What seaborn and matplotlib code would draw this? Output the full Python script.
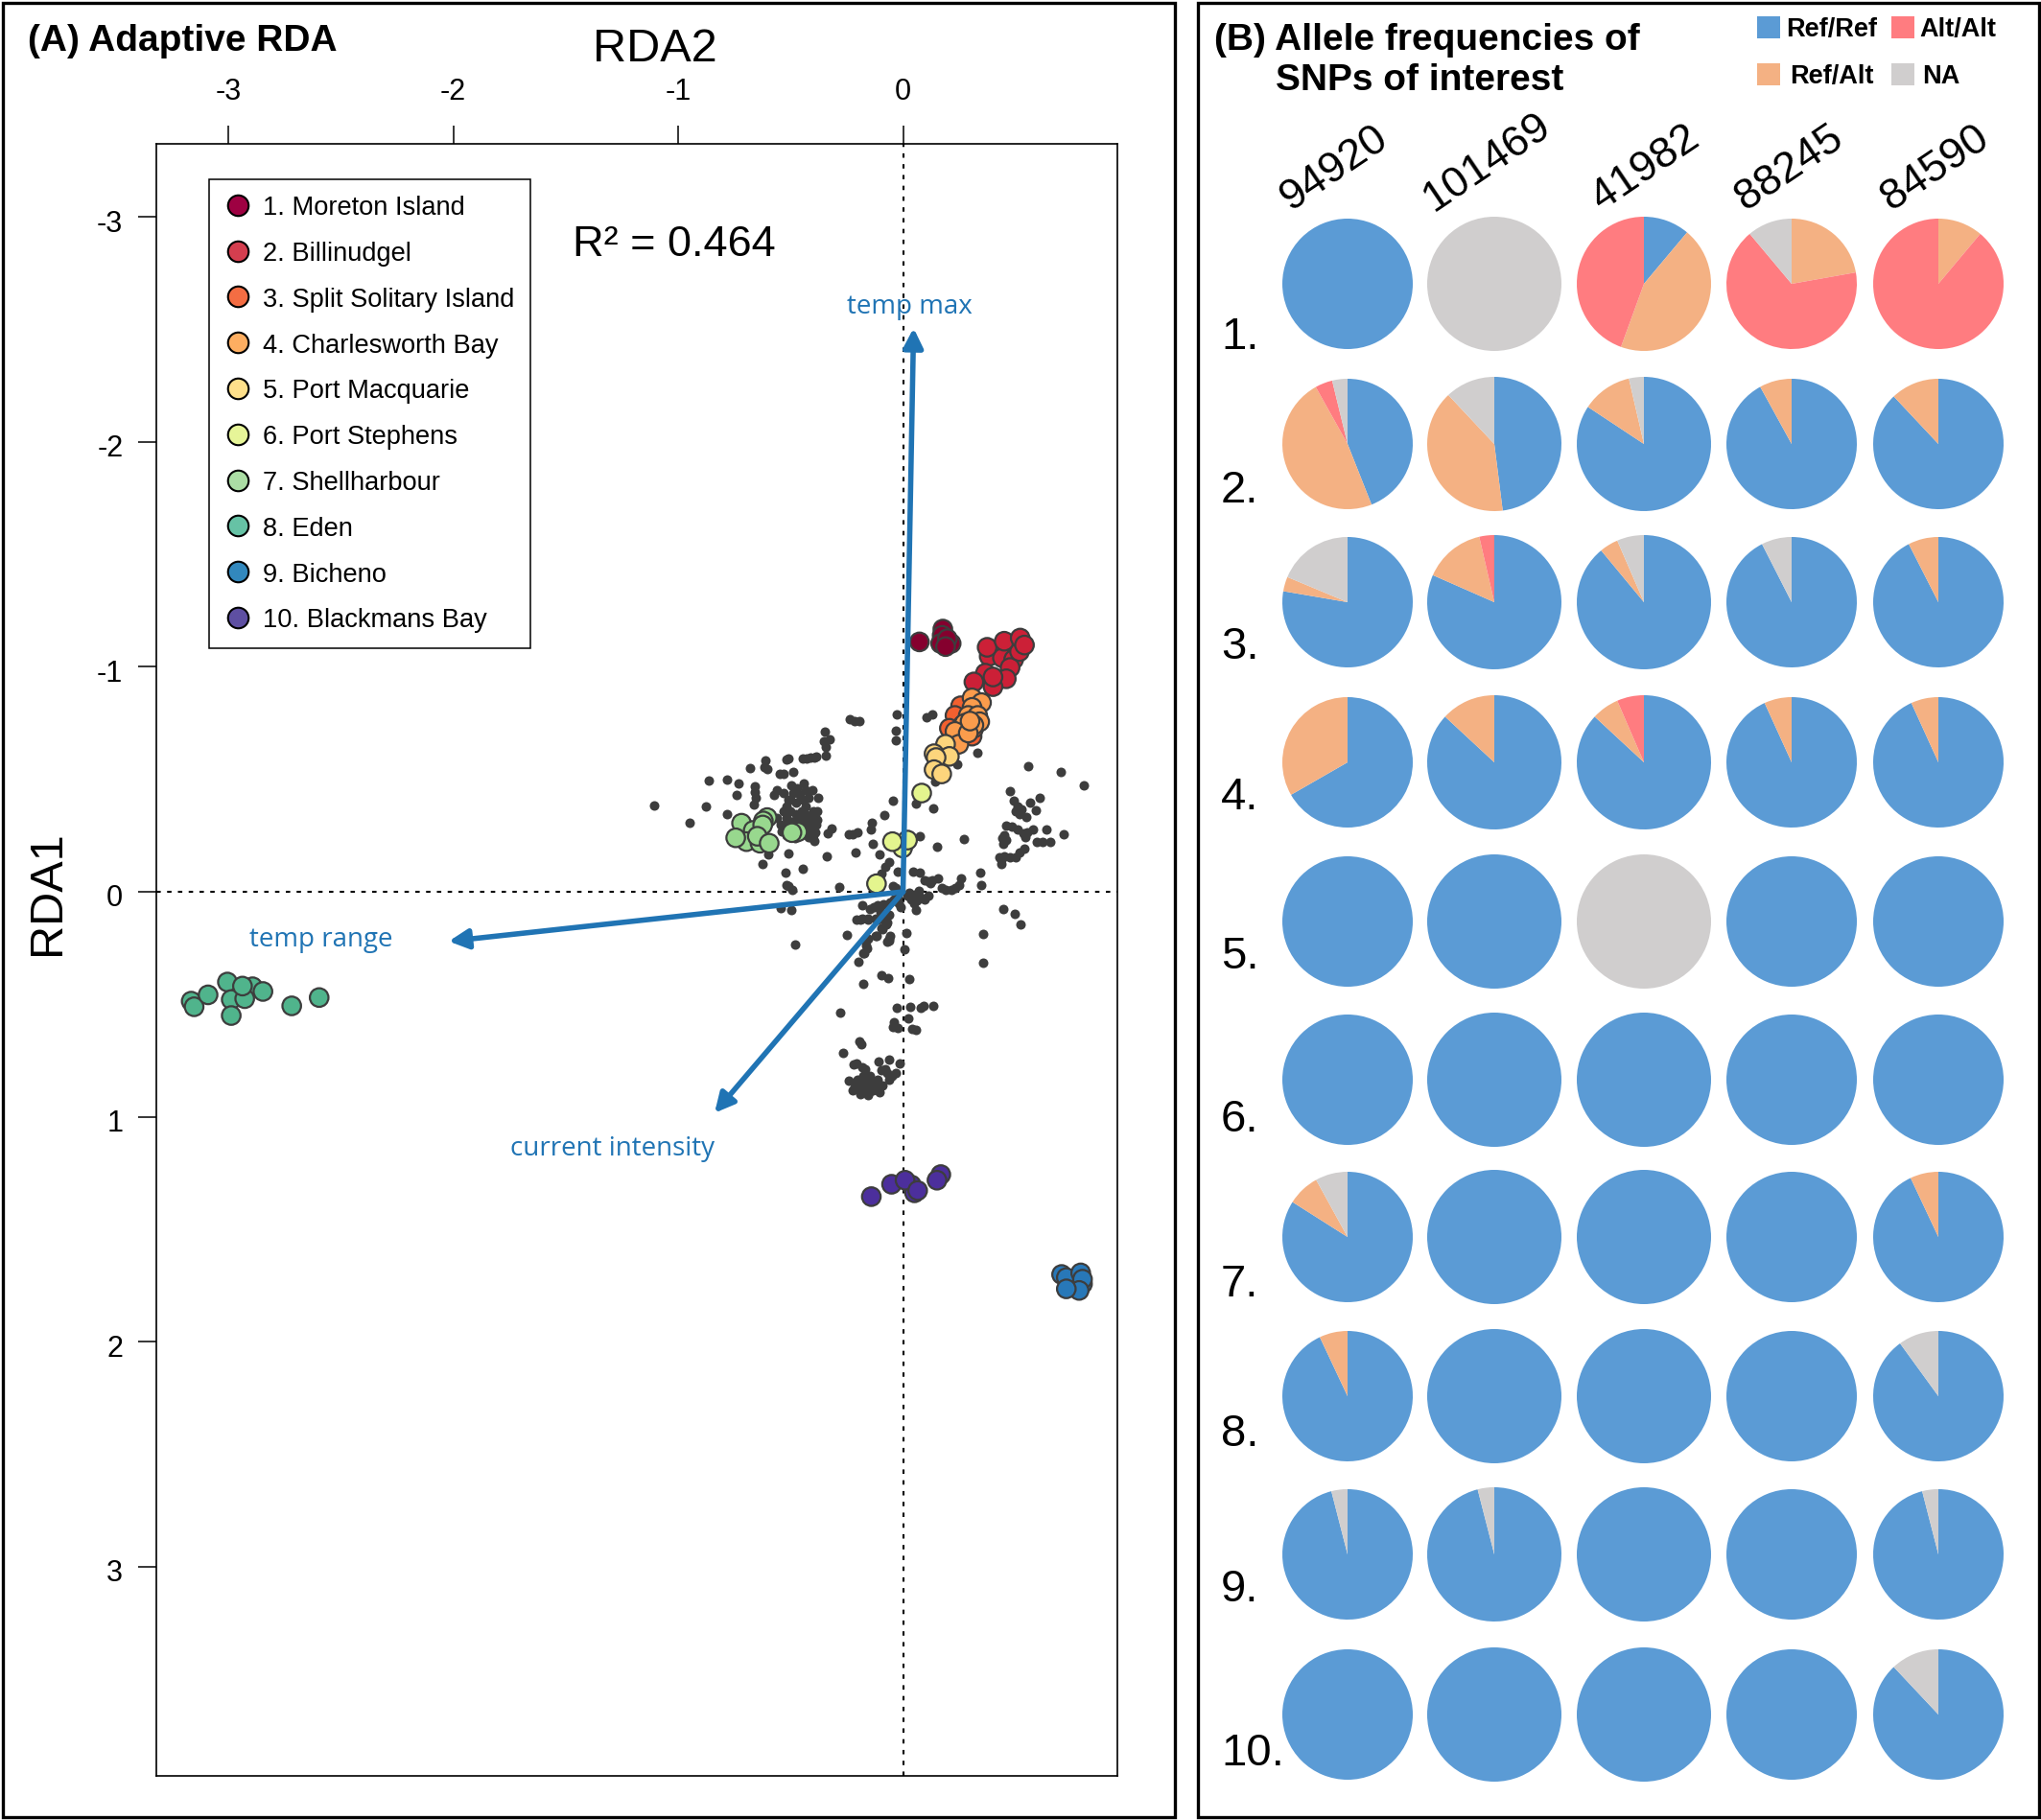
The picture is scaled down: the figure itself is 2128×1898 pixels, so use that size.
import pandas as pd
import matplotlib
matplotlib.use("Agg")
import matplotlib.pyplot as plt
import seaborn as sns
from matplotlib.lines import Line2D
from matplotlib.patches import Rectangle
from matplotlib.transforms import ScaledTranslation

# -------------------------------
# Data: RDA scores as (RDA2, RDA1)
# -------------------------------
snp_scores = [
    (-1.106, -.385), (-.951, -.308), (-.877, -.379), (-.862, -.496), (-.782, -.497), (-.732, -.482),
    (-.742, -.432), (-.781, -.344), (-.681, -.551), (-.612, -.585), (-.617, -.554), (-.604, -.545),
    (-.511, -.592), (-.519, -.588), (-.444, -.592), (-.427, -.592), (-.41, -.599), (-.393, -.599),
    (-.384, -.602), (-.342, -.607), (-.342, -.642), (-.351, -.67), (-.325, -.678), (-.347, -.712),
    (-.238, -.766), (-.216, -.759), (-.196, -.76), (-.029, -.787), (-.03, -.717), (-.03, -.675),
    (.105, -.778), (.128, -.788), (.329, -.619), (.239, -.565), (.143, -.489), (.059, -.393),
    (.133, -.369), (-.047, -.406), (-.084, -.342), (-.137, -.305), (-.145, -.277), (.076, -.249),
    (.153, -.2), (.27, -.233), (-.317, -.28), (-.337, -.261), (-.241, -.254), (-.224, -.256),
    (-.204, -.263), (-.135, -.213), (-.211, -.173), (-.103, -.168), (-.339, -.156), (-.511, -.17),
    (-.6, -.168), (-.626, -.122), (-.447, -.102), (-.524, -.084), (-.52, -.031), (-.511, -.024),
    (-.494, -.007), (-.283, -.02), (-.545, .072), (-.497, .081), (-.481, .233), (-.25, .19),
    (.445, .077), (.496, .098), (.524, .143), (.358, .186), (.356, .314), (.344, -.087),
    (.349, -.03), (.26, -.06), (.558, -.56), (.702, -.534), (.804, -.474), (.476, -.449),
    (.609, -.418), (.563, -.395), (.592, -.361), (.492, -.406), (.509, -.379), (.526, -.365),
    (.501, -.358), (.518, -.344), (.546, -.334), (.459, -.294), (.484, -.29), (.509, -.276),
    (.535, -.259), (.551, -.266), (.577, -.276), (.543, -.244), (.636, -.277), (.715, -.257),
    (.45, -.251), (.442, -.237), (.459, -.23), (.447, -.213), (.594, -.223), (.619, -.223),
    (.653, -.223), (.54, -.19), (.518, -.173), (.501, -.155), (.476, -.155), (.45, -.159),
    (.43, -.155), (.437, -.124), (.437, -.142), (.046, -.088), (.076, -.084), (.096, -.053),
    (.113, -.045), (.13, -.053), (.155, -.06), (.172, -.017), (.189, -.007), (.214, -.01),
    (.231, -.017), (.248, -.031), (-.022, -.091), (-.064, -.131), (-.081, -.109), (-.098, -.081),
    (-.047, -.024), (-.03, -.017), (.029, .004), (.054, .011), (.071, -.003), (.079, .026),
    (.096, .033), (.113, .018), (.062, .04), (.037, .033), (.02, .018), (.059, .08),
    (-.182, .061), (-.148, .075), (-.132, .068), (-.115, .061), (-.089, .054), (-.056, .047),
    (-.039, .033), (-.022, .026), (-.207, .125), (-.182, .118), (-.157, .118), (-.123, .118),
    (-.089, .125), (-.064, .104), (-.073, .146), (-.098, .161), (-.123, .196), (-.064, .21),
    (-.056, .196), (-.165, .239), (-.174, .274), (-.199, .31), (-.157, .21), (.015, .183),
    (.007, .256), (-.119, .195), (-.091, .166), (-.063, .216), (-.07, .223), (-.169, .216),
    (-.162, .251), (-.176, .273), (-.112, .124), (-.07, .138), (-.19, .124), (-.155, .124),
    (-.175, .411), (-.095, .371), (-.067, .382), (.027, .389), (-.28, .537), (-.026, .517),
    (.033, .51), (.08, .517), (.091, .506), (.136, .507), (.024, .561), (-.04, .581),
    (-.045, .602), (-.024, .607), (.04, .61), (.058, .615), (-.195, .664), (-.185, .678),
    (-.266, .716), (-.219, .767), (-.207, .763), (-.183, .78), (-.169, .787), (-.108, .753),
    (-.063, .746), (-.017, .763), (-.094, .791), (-.077, .787), (-.07, .806), (-.034, .806),
    (-.048, .82), (-.063, .834), (-.243, .841), (-.226, .881), (-.205, .848), (-.19, .869),
    (-.176, .82), (-.162, .834), (-.148, .82), (-.176, .877), (-.155, .905), (-.134, .884),
    (-.119, .855), (-.105, .891), (-.091, .862), (-.216, .869), (-.188, .898), (-.202, .834),
    (-.141, .848), (-.112, .834), (-.561, -.452), (-.575, -.43), (-.532, -.438), (-.497, -.473),
    (-.511, -.409), (-.475, -.395), (-.44, -.48), (-.433, -.452), (-.404, -.452), (-.447, -.409),
    (-.433, -.381), (-.376, -.419), (-.383, -.359), (-.532, -.523), (-.547, -.523), (-.487, -.533),
    (-.66, -.47), (-.66, -.445), (-.655, -.42), (-.665, -.39), (-.56, -.33), (-.53, -.36),
    (-.517, -.33), (-.5, -.36), (-.475, -.345), (-.45, -.36), (-.43, -.34), (-.4, -.36),
    (-.39, -.33), (-.545, -.3), (-.52, -.29), (-.49, -.31), (-.46, -.3), (-.43, -.31),
    (-.41, -.3), (-.385, -.3), (-.54, -.27), (-.5, -.26), (-.46, -.27), (-.43, -.27),
    (-.405, -.27), (-.39, -.265), (-.42, -.245), (-.405, -.24), (-.395, -.225), (-.4, -.25),
    (-.52, -.25), (-.48, -.24), (-.51, -.315), (-.475, -.32), (-.445, -.33), (-.415, -.335),
    (-.505, -.285), (-.475, -.29), (-.445, -.285), (-.415, -.285), (-.38, -.32), (-.44, -.255),
    (-.52, -.38), (-.5, -.41), (-.46, -.43), (-.42, -.42), (-.49, -.44), (-.47, -.46),
    (-.17, .85), (-.16, .87), (-.145, .87), (-.13, .86), (-.15, .89), (-.2, .86), (-.19, .85),
    (-.12, .875), (.12, -.04), (.04, .02), (.05, .05), (-.02, .05), (-.01, .07), (-.1, .09),
]
moreton = [(.073, -1.111), (.177, -1.168), (.174, -1.14), (.18, -1.104), (.214, -1.104),
           (.167, -1.104), (.197, -1.125), (.189, -1.09)]
billinudgel = [(.383, -1.047), (.442, -1.04), (.492, -1.033), (.476, -.997), (.459, -.947),
               (.518, -1.068), (.374, -1.087), (.45, -1.114), (.521, -1.128), (.54, -1.097),
               (.4, -.912), (.366, -.972), (.315, -.933), (.4, -.955)]
split_solitary = [(.256, -.827), (.231, -.784), (.206, -.727), (.307, -.692), (.265, -.741), (.315, -.727)]
charlesworth = [(.307, -.862), (.349, -.841), (.307, -.82), (.29, -.784), (.332, -.784), (.273, -.749),
                (.341, -.756), (.231, -.713), (.248, -.656), (.315, -.741), (.29, -.706), (.298, -.759)]
port_macquarie = [(.189, -.656), (.138, -.614), (.206, -.602), (.147, -.597), (.138, -.543), (.172, -.524)]
port_stephens = [(.083, -.439), (-.002, -.195), (.02, -.23), (-.047, -.223), (-.118, -.036)]
shellharbour = [(-.604, -.33), (-.621, -.315), (-.718, -.305), (-.666, -.273), (-.624, -.297), (-.696, -.223),
                (-.636, -.216), (-.744, -.24), (-.648, -.247), (-.595, -.216), (-.469, -.266), (-.494, -.263)]
eden = [(-3.165, .486), (-3.152, .511), (-3.09, .458), (-3.004, .401), (-2.987, .479), (-2.987, .55),
        (-2.892, .422), (-2.846, .443), (-2.927, .475), (-2.937, .419), (-2.718, .507), (-2.596, .47)]
bicheno = [(.705, 1.701), (.726, 1.715), (.79, 1.694), (.798, 1.743), (.798, 1.722), (.783, 1.772), (.726, 1.765)]
blackmans = [(-.141, 1.355), (-.051, 1.3), (.037, 1.303), (.051, 1.338), (.009, 1.282), (.065, 1.328),
             (.168, 1.257), (.151, 1.282)]

site_labels = ["1. Moreton Island", "2. Billinudgel", "3. Split Solitary Island", "4. Charlesworth Bay",
               "5. Port Macquarie", "6. Port Stephens", "7. Shellharbour", "8. Eden", "9. Bicheno",
               "10. Blackmans Bay"]
site_scores = [moreton, billinudgel, split_solitary, charlesworth, port_macquarie, port_stephens,
               shellharbour, eden, bicheno, blackmans]
site_colors = ["#85002e", "#cc2037", "#f2602f", "#fb9c4c", "#fdd57c", "#e4f58e", "#98d88e", "#50b48c",
               "#2878b8", "#4c2f9c"]
legend_colors = ["#9e0142", "#d53e4f", "#f46d43", "#fdae61", "#fee08b", "#e6f598", "#abdda4", "#66c2a5",
                 "#3288bd", "#5e4fa2"]

biplot_labels = ["temp max", "temp range", "current intensity"]
biplot_rda2 = [.047, -2.02, -.838]
biplot_rda1 = [-2.506, .22, .983]

# -------------------------------
# Data: genotype fractions per site (rows) and SNP (columns)
# -------------------------------
snp_names = ["94920", "101469", "41982", "88245", "84590"]
row_names = ["1.", "2.", "3.", "4.", "5.", "6.", "7.", "8.", "9.", "10."]
genotypes = ["Ref/Ref", "Ref/Alt", "Alt/Alt", "NA"]
ref_ref = [[1, 0, .111, 0, 0], [.44, .48, .843, .92, .88], [.777, .816, .89, .925, .925],
           [.667, .869, .869, .932, .932], [1, 1, 0, 1, 1], [1, 1, 1, 1, 1], [.84, 1, 1, 1, .93],
           [.93, 1, 1, 1, .9], [.96, .96, 1, 1, .96], [1, 1, 1, 1, .88]]
ref_alt = [[0, 0, .444, .222, .111], [.479, .40, .121, .08, .12], [.036, .148, .045, 0, .075],
           [.333, .131, .066, .068, .068], [0, 0, 0, 0, 0], [0, 0, 0, 0, 0], [.08, 0, 0, 0, .07],
           [.07, 0, 0, 0, 0], [0, 0, 0, 0, 0], [0, 0, 0, 0, 0]]
alt_alt = [[0, 0, .444, .667, .889], [.043, 0, 0, 0, 0], [0, .036, 0, 0, 0],
           [0, 0, .065, 0, 0], [0, 0, 0, 0, 0], [0, 0, 0, 0, 0], [0, 0, 0, 0, 0],
           [0, 0, 0, 0, 0], [0, 0, 0, 0, 0], [0, 0, 0, 0, 0]]
missing = [[0, 1, 0, .111, 0], [.038, .12, .036, 0, 0], [.187, 0, .065, .075, 0],
           [0, 0, 0, 0, 0], [0, 0, 1, 0, 0], [0, 0, 0, 0, 0], [.08, 0, 0, 0, 0],
           [0, 0, 0, 0, .1], [.04, .04, 0, 0, .04], [0, 0, 0, 0, .12]]
genotype_colors = ["#5b9bd5", "#f4b183", "#ff7c80", "#d0cece"]

# -------------------------------
# Figure setup
# -------------------------------
W, H = 2128, 1899
sns.set_theme(style="white")
plt.rcParams["font.family"] = ["Liberation Sans", "DejaVu Sans"]
plt.rcParams["text.color"] = "black"
fig = plt.figure(figsize=(W / 100, H / 100), dpi=100, facecolor="white")


def fx(px):
    return px / W


def fy(py):
    return 1 - py / H


for x0, x1 in [(3, 1225), (1249, 2126)]:
    fig.add_artist(Rectangle((fx(x0), fy(1896)), fx(x1 - x0), 1892 / H, transform=fig.transFigure,
                             fill=False, ec="black", lw=2.4))

# -------------------------------
# Panel A: RDA biplot
# -------------------------------
ax = fig.add_axes([fx(163), fy(1853), fx(1002), 1702 / H])

snp_df = pd.DataFrame(snp_scores, columns=["RDA2", "RDA1"])
sns.scatterplot(data=snp_df, x="RDA2", y="RDA1", color="#3d3d3d", s=52, linewidth=0, ax=ax, zorder=2)

site_df = pd.concat([pd.DataFrame(scores, columns=["RDA2", "RDA1"]).assign(site=name)
                     for name, scores in zip(site_labels, site_scores)])
sns.scatterplot(data=site_df, x="RDA2", y="RDA1", hue="site", palette=site_colors, s=195,
                edgecolor="#3d3d3d", linewidth=1.6, legend=False, ax=ax, zorder=3)

ax.axhline(0, color="black", ls=(0, (2.2, 3.2)), lw=1.5, zorder=1)
ax.axvline(0, color="black", ls=(0, (2.2, 3.2)), lw=1.5, zorder=1)

for x, y in zip(biplot_rda2, biplot_rda1):
    ax.annotate("", xy=(x, y), xytext=(0, 0), zorder=4,
                arrowprops=dict(arrowstyle="-|>,head_length=0.75,head_width=0.38", color="#2074b4", lw=4,
                                shrinkA=0, shrinkB=0, mutation_scale=16))

ax.text(.03, -2.605, biplot_labels[0], color="#2074b4", fontsize=20, family="Open Sans", ha="center", va="center")
ax.text(-2.586, .209, biplot_labels[1], color="#2074b4", fontsize=20, family="Open Sans", ha="center", va="center")
ax.text(-1.294, 1.14, biplot_labels[2], color="#2074b4", fontsize=20, family="Open Sans", ha="center", va="center")
ax.text(-1.47, -2.88, "R² = 0.464", fontsize=32.5, ha="left", va="center")

ax.set_xlim(-3.32, .953)
ax.set_ylim(3.93, -3.325)
ax.set_xticks([-3, -2, -1, 0])
ax.set_yticks([-3, -2, -1, 0, 1, 2, 3])
ax.set_xticklabels(["-3", "-2", "-1", "0"])
ax.set_yticklabels(["-3", "-2", "-1", "0", "1", "2", "3"])
ax.xaxis.tick_top()
ax.tick_params(axis="x", top=True, bottom=False, length=14, width=1.1, pad=15, labelsize=22, color="black",
               labelcolor="black")
ax.tick_params(axis="y", left=True, length=14, width=1.1, pad=11, labelsize=22, color="black", labelcolor="black")
ax.set_xlabel("")
ax.set_ylabel("")
for label in ax.get_yticklabels():
    label.set_transform(label.get_transform() + ScaledTranslation(0, -2 / 72, fig.dpi_scale_trans))
for spine in ax.spines.values():
    spine.set_color("black")
    spine.set_linewidth(1.2)

fig.text(fx(683), fy(52), "RDA2", fontsize=35, ha="center", va="center")
fig.text(fx(49), fy(931), "RDA1", fontsize=35, rotation=90, ha="center", va="center")
fig.text(fx(29), fy(43), "(A) Adaptive RDA", fontsize=28, weight="bold", ha="left", va="center")

handles = [Line2D([], [], ls="", marker="o", ms=15.5, mfc=c, mec="black", mew=1.5) for c in legend_colors]
leg = ax.legend(handles, site_labels, loc="upper left", bbox_to_anchor=((218 - 163) / 1002, 1 - 36.5 / 1702),
                borderaxespad=0, fontsize=19.6, frameon=True, fancybox=False, framealpha=1, edgecolor="black",
                borderpad=.62, labelspacing=.8, handlelength=1, handletextpad=.42)
leg.get_frame().set_linewidth(1.1)

# -------------------------------
# Panel B: genotype pies
# -------------------------------
pie_cx = [1405, 1558, 1714, 1868, 2021]
pie_r = [68, 70, 70, 68, 68]
pie_cy = [297, 464, 629, 796, 962, 1127, 1291, 1457, 1622, 1789]
row_label_y = [352, 512, 675, 832, 998, 1168, 1340, 1496, 1658, 1829]
col_label_xy = [(1391, 175), (1551, 169), (1716, 175), (1866, 175), (2018, 175)]

for i, cy in enumerate(pie_cy):
    for j, cx in enumerate(pie_cx):
        r = pie_r[j]
        pie_ax = fig.add_axes([fx(cx - r), fy(cy + r), fx(2 * r), 2 * r / H])
        fracs = [ref_ref[i][j], ref_alt[i][j], alt_alt[i][j], missing[i][j]]
        pie_ax.pie(fracs, colors=genotype_colors, startangle=90, counterclock=False, radius=1,
                   wedgeprops=dict(linewidth=0))
        pie_ax.set_xlim(-1, 1)
        pie_ax.set_ylim(-1, 1)
    fig.text(fx(1273), fy(row_label_y[i]), row_names[i], fontsize=34, ha="left", va="center")

for name, (x, y) in zip(snp_names, col_label_xy):
    fig.text(fx(x), fy(y), name, fontsize=32.5, rotation=34, ha="center", va="center")

fig.text(fx(1266), fy(42), "(B) Allele frequencies of", fontsize=28, weight="bold", ha="left", va="center")
fig.text(fx(1330), fy(84), "SNPs of interest", fontsize=28, weight="bold", ha="left", va="center")

key_xy = [(1832, 18), (1832, 67), (1972, 18), (1972, 67)]
key_text_x = [1862, 1866, 2001, 2004]
for name, c, (x, y), tx in zip(genotypes, genotype_colors, key_xy, key_text_x):
    fig.add_artist(Rectangle((fx(x), fy(y + 23)), fx(24), 23 / H, transform=fig.transFigure, fc=c, ec="none"))
    fig.text(fx(tx), fy(y + 13), name, fontsize=19.5, weight="bold", ha="left", va="center")

fig.savefig("out.png", dpi=100)
